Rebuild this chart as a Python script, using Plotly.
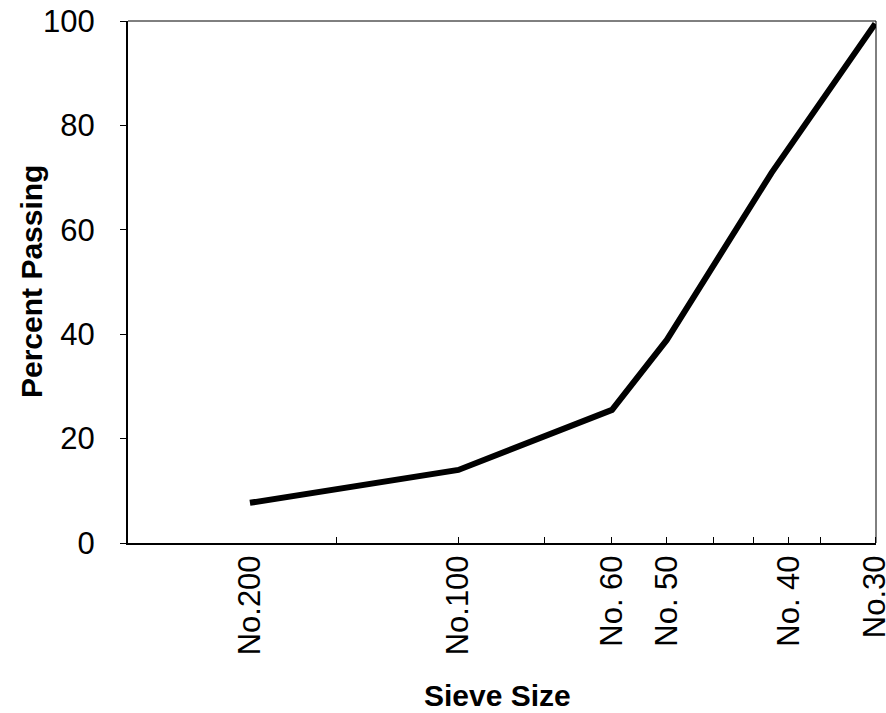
import math
import plotly.graph_objects as go

# Sieve openings (mm) and cumulative percent passing
sieve_mm = [0.075, 0.15, 0.25, 0.3, 0.425, 0.6]
percent_passing = [7.7, 14.0, 25.5, 38.9, 70.9, 99.5]

# Sieve labels and where they sit on the axis (mm)
label_mm = [0.075, 0.15, 0.25, 0.3, 0.45, 0.6]
label_text = ["No.200", "No.100", "No. 60", "No. 50", "No. 40", "No.30"]

# Small tick marks along the size axis (mm)
tick_mm = [0.1, 0.15, 0.2, 0.25, 0.3, 0.35, 0.4, 0.45, 0.5, 0.6]

y_ticks = [0, 20, 40, 60, 80, 100]

FONT = "Arial, Liberation Sans, Helvetica, sans-serif"

fig = go.Figure()
fig.add_trace(go.Scatter(
    x=sieve_mm, y=percent_passing, mode="lines",
    line=dict(color="black", width=6),
    cliponaxis=False, showlegend=False,
))

fig.update_xaxes(
    type="log", automargin=False,
    range=[math.log10(0.05), math.log10(0.6015)],
    tickvals=label_mm, ticktext=label_text, tickangle=-90,
    ticks="", ticklabelstandoff=-2, ticklabeloverflow="allow",
    tickfont=dict(family=FONT, size=31, color="black"),
    minor=dict(tickvals=tick_mm, ticks="inside", ticklen=6,
               tickwidth=1, tickcolor="black", showgrid=False),
    showline=True, linecolor="black", linewidth=2,
    showgrid=False, zeroline=False,
)
fig.update_yaxes(
    range=[0, 100], tickvals=y_ticks, automargin=False,
    ticks="outside", ticklen=6, tickwidth=1, tickcolor="black",
    ticklabelstandoff=19, ticklabeloverflow="allow",
    tickfont=dict(family=FONT, size=31, color="black"),
    showline=True, linecolor="black", linewidth=2,
    showgrid=False, zeroline=False,
)

# Thin frame on the top and right sides
fig.add_shape(type="line", xref="paper", yref="paper", x0=0, x1=1, y0=1, y1=1,
              line=dict(color="black", width=1))
fig.add_shape(type="line", xref="paper", yref="paper", x0=1, x1=1, y0=0, y1=1,
              line=dict(color="black", width=1))

fig.add_annotation(text="<b>Percent Passing</b>", xref="paper", yref="paper",
                   x=0, y=0.5, xshift=-97, yshift=0, textangle=-90,
                   showarrow=False, xanchor="center", yanchor="middle",
                   font=dict(family=FONT, size=30, color="black"))
fig.add_annotation(text="<b>Sieve Size</b>", xref="paper", yref="paper",
                   x=0.5, y=0, yshift=-152, xshift=-5,
                   showarrow=False, xanchor="center", yanchor="middle",
                   font=dict(family=FONT, size=30, color="black"))

fig.update_layout(
    template="none",
    width=886, height=713,
    margin=dict(l=128, r=10, t=21, b=170),
    paper_bgcolor="white", plot_bgcolor="white",
)

fig.write_html("out.html")
